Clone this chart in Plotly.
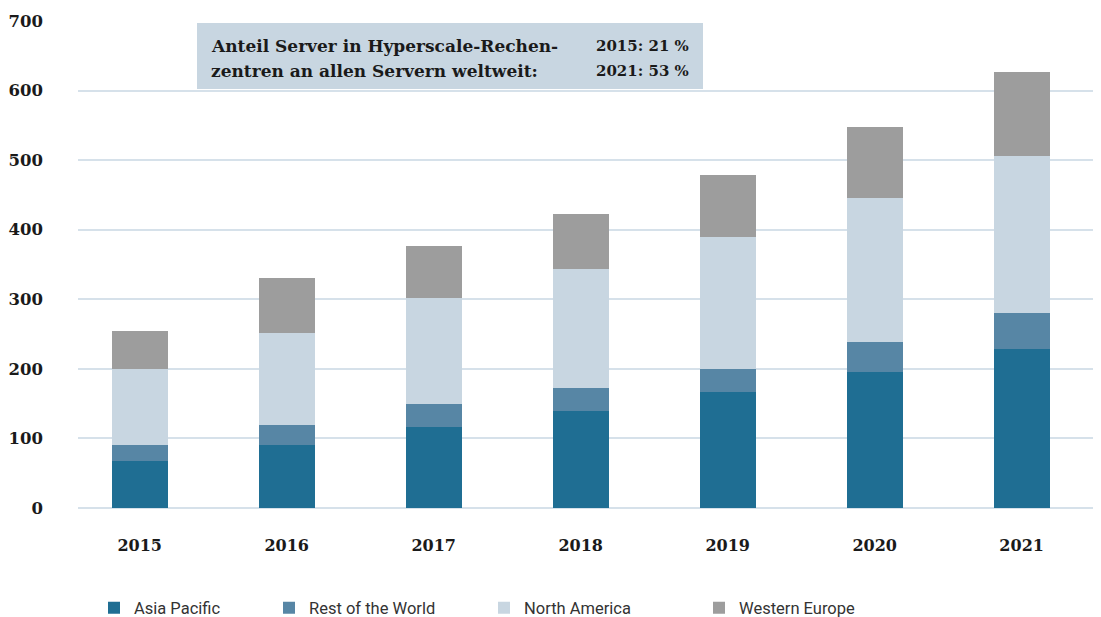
import plotly.graph_objects as go

years = ["2015", "2016", "2017", "2018", "2019", "2020", "2021"]
asia_pacific = [68, 91, 116, 139, 167, 195, 228]
rest_of_world = [23, 29, 33, 34, 33, 44, 53]
north_america = [109, 132, 153, 170, 189, 207, 225]
western_europe = [55, 78, 74, 80, 89, 102, 121]

series_names = ["Asia Pacific", "Rest of the World", "North America", "Western Europe"]
series_vals = [asia_pacific, rest_of_world, north_america, western_europe]
colors = ["#1f6e93", "#5786a5", "#c8d6e1", "#9d9d9d"]
legend_ids = ["legend", "legend2", "legend3", "legend4"]

box_left_lines = ["Anteil Server in Hyperscale-Rechen-", "zentren an allen Servern weltweit:"]
box_right_lines = ["2015: 21 %", "2021: 53 %"]

# page body has an 8px margin, so the figure is drawn 8px smaller and positions are offset
OFF = 8
W, H = 1101 - OFF, 617 - OFF
L, R, T = 78 - OFF, 0, 21 - OFF
plot_bottom = 508 - OFF
B = H - plot_bottom
pw = W - L - R
ph = plot_bottom - T

legend_x_px = [94 - OFF, 269 - OFF, 484 - OFF, 699 - OFF]

fig = go.Figure()
for name, vals, c, lid in zip(series_names, series_vals, colors, legend_ids):
    fig.add_trace(go.Bar(x=years, y=vals, name=name, marker=dict(color=c, line=dict(width=0)),
                         legend=lid))

slab = "DejaVu Serif"
legend_common = dict(orientation="h", yanchor="middle", y=1 - (608 - OFF) / H, yref="container",
                     xanchor="left", xref="container",
                     font=dict(family="Roboto", size=16.5, color="#333333"),
                     bgcolor="rgba(0,0,0,0)")
layout_legends = {}
for lid, xp in zip(legend_ids, legend_x_px):
    layout_legends[lid] = dict(legend_common, x=xp / W)

fig.update_layout(
    width=W, height=H,
    margin=dict(l=L, r=R, t=T, b=B, autoexpand=False),
    barmode="stack",
    bargap=0.62,
    plot_bgcolor="white", paper_bgcolor="white",
    showlegend=True,
    **layout_legends,
    xaxis=dict(range=[-0.42, 6.54], showgrid=False, showline=False, zeroline=False,
               ticks="", ticklabelstandoff=26,
               tickfont=dict(family=slab, size=16, color="#1a1a1a", weight="bold")),
    yaxis=dict(range=[0, 700], dtick=100, showgrid=True, gridcolor="#d6e1ea", gridwidth=1.5,
               zeroline=True, zerolinecolor="#d6e1ea", zerolinewidth=1.5, showline=False,
               ticks="", ticklabelstandoff=34,
               tickfont=dict(family=slab, size=16.5, color="#1a1a1a", weight="bold")),
)

# info box
box_x0, box_x1 = (197 - 78) / pw, (703 - 78) / pw
box_y0, box_y1 = (508 - 89) / ph, (508 - 23) / ph
fig.add_shape(type="rect", xref="paper", yref="paper", x0=box_x0, x1=box_x1, y0=box_y0, y1=box_y1,
              fillcolor="#c8d6e1", line=dict(width=0), layer="above")
line_y_px = [46, 71]
for ypx, ltxt, rtxt in zip(line_y_px, box_left_lines, box_right_lines):
    yy = (508 - ypx) / ph
    fig.add_annotation(xref="paper", yref="paper", x=(209 - 78) / pw, y=yy,
                       xanchor="left", yanchor="middle", align="left", showarrow=False,
                       text=ltxt, font=dict(family=slab, size=17, color="#1a1a1a", weight="bold"))
    fig.add_annotation(xref="paper", yref="paper", x=(594 - 78) / pw, y=yy,
                       xanchor="left", yanchor="middle", align="left", showarrow=False,
                       text=rtxt, font=dict(family=slab, size=15, color="#1a1a1a", weight="bold"))

fig.write_html("out.html")
